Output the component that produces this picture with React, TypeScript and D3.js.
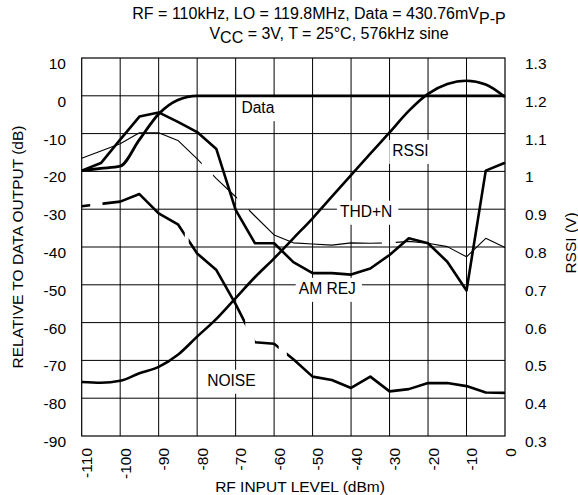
import React, { useRef, useEffect } from 'react';
import * as d3 from 'd3';

// RF input level (dBm) shared by every curve
const rfLevels = [-110, -105, -100, -95, -90, -85, -80, -75, -70, -65, -60, -55, -50, -45, -40, -35, -30, -25, -20, -15, -10, -5, 0];

// left axis curves (dB relative to data output)
const dataOut = [-19.8, -19.2, -18.6, -11.6, -4.8, -1.1, 0, 0, 0, 0, 0, 0, 0, 0, 0, 0, 0, 0, 0, 0, 0, 0, 0];
const amRej = [-19.8, -17.8, -11.6, -5.5, -4.4, -6.9, -9.6, -14.1, -30.2, -39, -39, -44, -46.9, -46.9, -47.3, -45.7, -42.1, -37.7, -39, -43.9, -51.5, -19.8, -17.7];
const thdN = [-16.5, -14.6, -12.7, -9.8, -9.8, -11.8, -16.7, -21.9, -26.7, -31.8, -36.8, -38.9, -39.2, -39.5, -38.9, -39, -38.9, -38.5, -39, -39.9, -42.6, -37.7, -40.1];
const noise = [-29.2, -28.6, -28, -26, -31.1, -34, -41.7, -46.1, -55.1, -65.2, -65.6, -69.7, -74.3, -75.2, -77.3, -74.3, -78.2, -77.6, -76, -76, -76.8, -78.5, -78.6];

// right axis curve (V)
const rssi = [0.443, 0.441, 0.446, 0.466, 0.483, 0.515, 0.563, 0.61, 0.665, 0.72, 0.77, 0.823, 0.876, 0.933, 0.99, 1.047, 1.103, 1.16, 1.205, 1.231, 1.24, 1.23, 1.197];

// breaks in the printed curves (dBm ranges)
const noiseGaps = [[-107.8, -104.6], [-83.2, -82.2], [-67.5, -65], [-58.8, -56.7]];
const thdGaps = [[-78.8, -75.9], [-69.6, -66.6], [-32, -28.4]];

const xTicks = [-110, -100, -90, -80, -70, -60, -50, -40, -30, -20, -10, 0];
const yTicks = [10, 0, -10, -20, -30, -40, -50, -60, -70, -80, -90];
const rssiTicks = [0.3, 0.4, 0.5, 0.6, 0.7, 0.8, 0.9, 1, 1.1, 1.2, 1.3];
const rssiTickLabels = ['0.3', '0.4', '0.5', '0.6', '0.7', '0.8', '0.9', '1', '1.1', '1.2', '1.3'];

// curve names, placed in data units (dBm, dB)
const curveLabels = [
  { text: 'Data', rf: -68.5, db: -4.6 },
  { text: 'RSSI', rf: -29.3, db: -15.9 },
  { text: 'THD+N', rf: -42.9, db: -32 },
  { text: 'AM REJ', rf: -53.6, db: -52.4 },
  { text: 'NOISE', rf: -77.4, db: -76.7 },
];

const W = 578;
const H = 495;
const FONT = '"Liberation Sans", Arial, Helvetica, sans-serif';

const App = () => {
  const ref = useRef<SVGSVGElement | null>(null);

  useEffect(() => {
    const svg = d3.select(ref.current);
    svg.selectAll('*').remove();

    const left = 81.7, right = 505, top = 58, bottom = 436;

    const x = d3.scaleLinear().domain([-110, 0]).range([left, right]);
    const y = d3.scaleLinear().domain([-90, 10]).range([bottom, top]);
    const yR = d3.scaleLinear().domain([0.3, 1.3]).range([bottom, top]);

    svg.append('rect').attr('width', W).attr('height', H).attr('fill', '#fff');

    const defs = svg.append('defs');
    const addGapMask = (id: string, gaps: number[][]) => {
      const m = defs.append('mask').attr('id', id)
        .attr('maskUnits', 'userSpaceOnUse')
        .attr('x', 0).attr('y', 0).attr('width', W).attr('height', H);
      m.append('rect').attr('width', W).attr('height', H).attr('fill', '#fff');
      gaps.forEach(([a, b]) => {
        m.append('rect').attr('x', x(a)).attr('width', x(b) - x(a))
          .attr('y', 0).attr('height', H).attr('fill', '#000');
      });
    };
    addGapMask('noiseGaps', noiseGaps);
    addGapMask('thdGaps', thdGaps);

    // grid
    const grid = svg.append('g').attr('stroke', '#000').attr('stroke-width', 1);
    xTicks.slice(1, -1).forEach(t => {
      grid.append('line').attr('x1', x(t)).attr('x2', x(t)).attr('y1', top).attr('y2', bottom);
    });
    yTicks.slice(1, -1).forEach(t => {
      grid.append('line').attr('x1', left).attr('x2', right).attr('y1', y(t)).attr('y2', y(t));
    });

    // curve labels on white boxes that break the grid
    const lab = svg.append('g').attr('font-family', FONT).attr('font-size', 15.6).attr('fill', '#000');
    curveLabels.forEach(l => {
      const g = lab.append('g');
      const box = g.append('rect').attr('fill', '#fff');
      const t = g.append('text').attr('x', x(l.rf)).attr('y', y(l.db)).text(l.text);
      const w = (t.node() as SVGTextElement).getComputedTextLength();
      box.attr('x', x(l.rf) - 3).attr('width', w + 9)
        .attr('y', y(l.db) - 16).attr('height', 24);
    });

    // plot border
    svg.append('rect')
      .attr('x', left).attr('y', top)
      .attr('width', right - left).attr('height', bottom - top)
      .attr('fill', 'none').attr('stroke', '#000').attr('stroke-width', 1.2);

    const dbLine = (curve: d3.CurveFactory) => d3.line<number>()
      .x((_, i) => x(rfLevels[i]))
      .y(d => y(d))
      .curve(curve);

    const rssiLine = d3.line<number>()
      .x((_, i) => x(rfLevels[i]))
      .y(d => yR(d))
      .curve(d3.curveMonotoneX);

    const lines = svg.append('g').attr('fill', 'none').attr('stroke', '#000')
      .attr('stroke-linejoin', 'round');

    lines.append('path').datum(thdN)
      .attr('d', dbLine(d3.curveLinear))
      .attr('stroke-width', 1.1)
      .attr('mask', 'url(#thdGaps)');

    lines.append('path').datum(noise)
      .attr('d', dbLine(d3.curveLinear))
      .attr('stroke-width', 2.6)
      .attr('mask', 'url(#noiseGaps)');

    lines.append('path').datum(amRej)
      .attr('d', dbLine(d3.curveLinear))
      .attr('stroke-width', 2.6);

    lines.append('path').datum(dataOut)
      .attr('d', dbLine(d3.curveMonotoneX))
      .attr('stroke-width', 2.8);

    lines.append('path').datum(rssi)
      .attr('d', rssiLine)
      .attr('stroke-width', 2.6);

    // axes text
    const txt = svg.append('g').attr('font-family', FONT).attr('font-size', 15.5).attr('fill', '#000');

    yTicks.forEach(t => {
      txt.append('text').attr('x', 66).attr('y', y(t) + 11)
        .attr('text-anchor', 'end').text(t);
    });

    rssiTicks.forEach((t, i) => {
      txt.append('text').attr('x', 525).attr('y', yR(t) + 11)
        .text(rssiTickLabels[i]);
    });

    xTicks.forEach(t => {
      txt.append('text')
        .attr('transform', `translate(${x(t) + 10.5},448) rotate(-90)`)
        .attr('text-anchor', 'end')
        .text(t);
    });

    txt.append('text').attr('x', 300).attr('y', 492)
      .attr('text-anchor', 'middle').text('RF INPUT LEVEL (dBm)');

    txt.append('text')
      .attr('transform', 'translate(23,247) rotate(-90)')
      .attr('text-anchor', 'middle').text('RELATIVE TO DATA OUTPUT (dB)');

    txt.append('text')
      .attr('transform', 'translate(576,243) rotate(-90)')
      .attr('text-anchor', 'middle').text('RSSI (V)');

    // title
    const title = svg.append('g').attr('font-family', FONT).attr('font-size', 16).attr('fill', '#000')
      .attr('text-anchor', 'middle');
    const t1 = title.append('text').attr('x', 319).attr('y', 19);
    t1.append('tspan').text('RF = 110kHz, LO = 119.8MHz, Data = 430.76mV');
    t1.append('tspan').attr('dy', 5).text('P-P');

    const t2 = title.append('text').attr('x', 329).attr('y', 39);
    t2.append('tspan').text('V');
    t2.append('tspan').attr('dy', 4).text('CC');
    t2.append('tspan').attr('dy', -4).text(' = 3V, T = 25°C, 576kHz sine');
  }, []);

  return (
    <svg
      ref={ref}
      width={W}
      height={H}
      style={{ position: 'absolute', left: 0, top: 0, display: 'block' }}
    />
  );
};

export default App;
